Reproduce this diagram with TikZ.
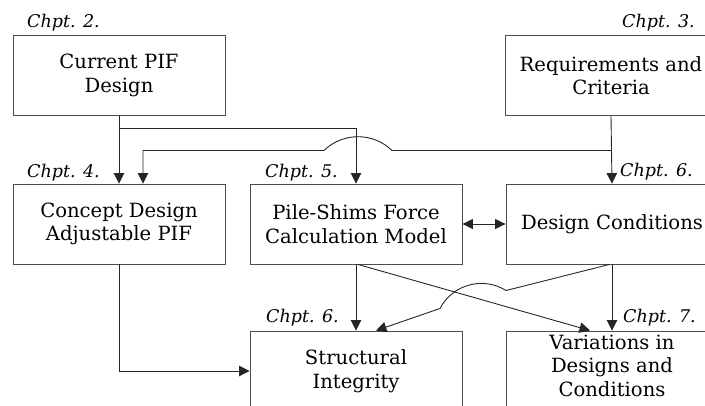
\documentclass[tikz,border=0pt]{standalone}
\usepackage{fontspec}
\setmainfont{DejaVu Serif}
\usetikzlibrary{arrows.meta}
\begin{document}
\begin{tikzpicture}[x=1pt,y=-1pt,
  box/.style={draw=black!70, line width=0.9pt, minimum width=212pt,
    minimum height=80pt, align=center, inner sep=0pt,
    font=\fontsize{19.6}{23.5}\selectfont, text=black},
  chpt/.style={font=\fontsize{17.5}{20}\selectfont\itshape, inner sep=0pt, text=black},
  conn/.style={draw=black!85, line width=0.9pt},
  arr/.style={conn, -{Triangle[length=10.5pt,width=10.5pt]}},
  darr/.style={conn, {Triangle[length=10.5pt,width=10pt]}-{Triangle[length=10.5pt,width=10pt]}}]
  \useasboundingbox (0,0) rectangle (705,406);
  \clip (0,0) rectangle (705,406);

  % boxes
  \node[box] (cur)  at (119,75.5) {Current PIF\\Design};
  \node[box] (req)  at (611,75.5) {Requirements and\\Criteria};
  \node[box] (con)  at (119,224)  {Concept Design\\Adjustable PIF};
  \node[box] (pile) at (356,224)  {Pile-Shims Force\\Calculation Model};
  \node[box] (dc)   at (612,224)  {Design Conditions};
  \node[box] (str)  at (356,371)  {Structural\\Integrity};
  \node[box, text depth=10.5pt] (var) at (612,371) {Variations in\\Designs and\\Conditions};

  % chapter labels
  \node[chpt, anchor=base west] (c2)  at (27,28)   {Chpt. 2.};
  \node[chpt, anchor=base east] (c3)  at (695,28)  {Chpt. 3.};
  \node[chpt, anchor=base west] (c4)  at (27,178)  {Chpt. 4.};
  \node[chpt, anchor=base west] (c5)  at (265,178) {Chpt. 5.};
  \node[chpt, anchor=base east] (c6a) at (693,177) {Chpt. 6.};
  \node[chpt, anchor=base west] (c6b) at (266,323) {Chpt. 6.};
  \node[chpt, anchor=base east] (c7)  at (696,323) {Chpt. 7.};

  % junction points
  \coordinate (jA) at (119,128);
  \coordinate (jB) at (611,150.5);

  % connectors
  \draw[arr] (cur.south) -- (con.north);
  \draw[arr] (jA) -| (pile.north);
  \draw[arr] (req.south) -- (dc.north);
  \draw[arr] (jB) -- (392,150.5)
     .. controls (373.1,132.1) and (342.9,132.1) .. (324,150.5)
     -- (143,150.5) -- ([xshift=24pt]con.north);
  \draw[darr] (pile.east) -- (dc.west);
  \draw[arr] (con.south) |- (str.west);
  \draw[arr] (pile.south) -- (str.north);
  \draw[arr] ([xshift=2pt]pile.south) -- ([xshift=-22pt]var.north);
  \draw[arr] (dc.south) -- (var.north);
  \draw[arr] ([xshift=-2.5pt]dc.south) -- (506,290.5)
     .. controls (483,276.1) and (452.5,284.4) .. (440,308.5)
     -- ([xshift=20pt]str.north);
\end{tikzpicture}
\end{document}
